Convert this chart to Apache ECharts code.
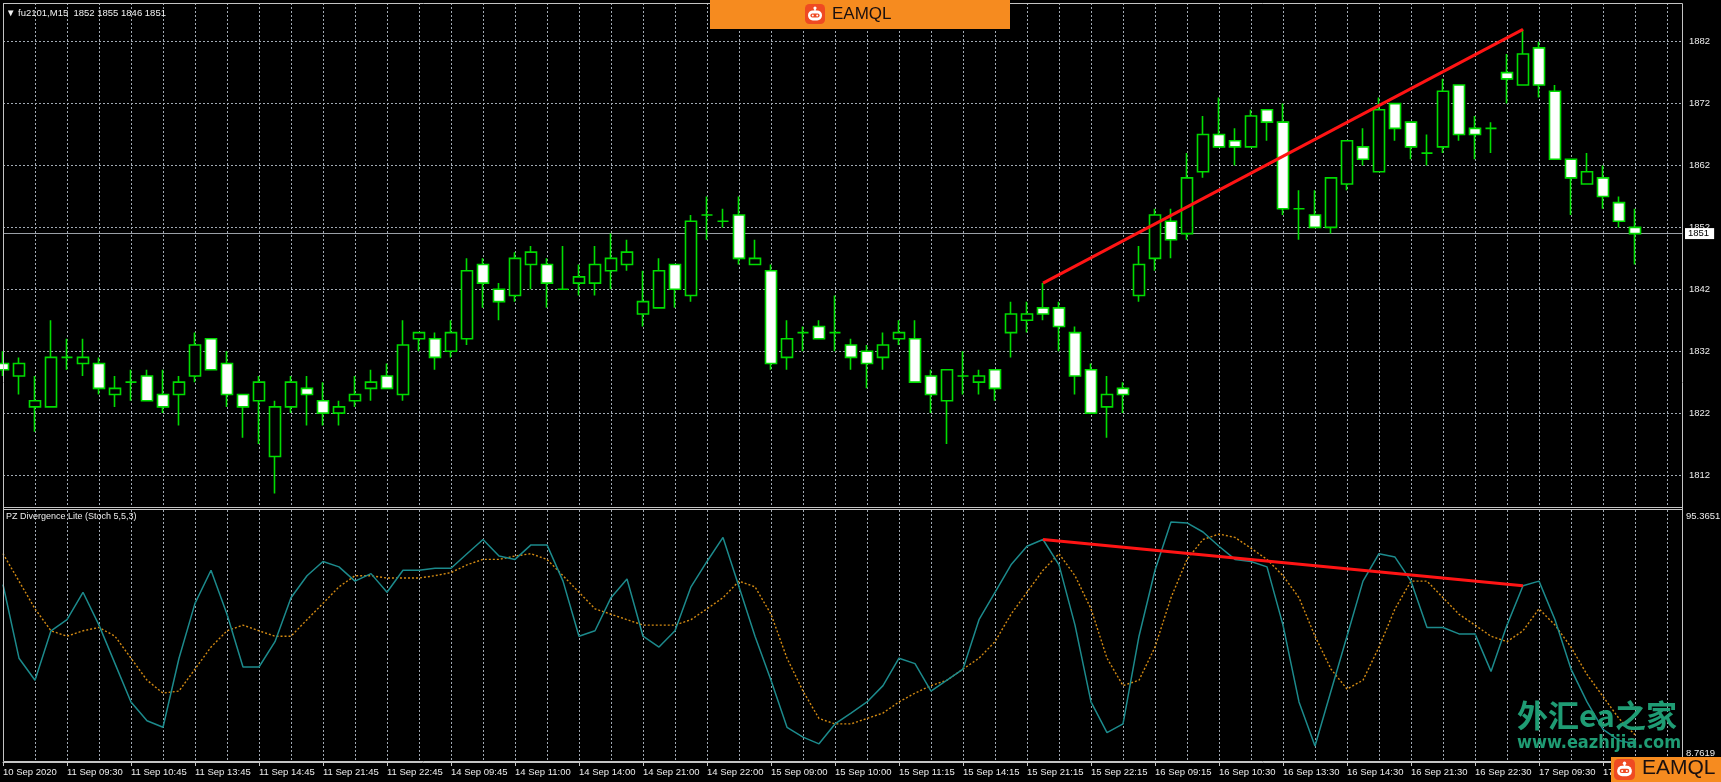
<!DOCTYPE html>
<html><head><meta charset="utf-8">
<script src="https://cdn.jsdelivr.net/npm/echarts@6/dist/echarts.min.js"></script>
<style>html,body{margin:0;padding:0;background:#000;overflow:hidden}#c{width:1721px;height:782px}</style>
</head><body><div id="c"></div>
<script>
// ---- categories (M15 bars) ----
const categories = [
'10 Sep 22:30','10 Sep 22:45','11 Sep 09:00','11 Sep 09:15','11 Sep 09:30','11 Sep 09:45','11 Sep 10:00','11 Sep 10:30','11 Sep 10:45','11 Sep 11:00',
'11 Sep 11:15','11 Sep 13:30','11 Sep 13:45','11 Sep 14:00','11 Sep 14:15','11 Sep 14:30','11 Sep 14:45','11 Sep 21:00','11 Sep 21:15','11 Sep 21:30',
'11 Sep 21:45','11 Sep 22:00','11 Sep 22:15','11 Sep 22:30','11 Sep 22:45','14 Sep 09:00','14 Sep 09:15','14 Sep 09:30','14 Sep 09:45','14 Sep 10:00',
'14 Sep 10:30','14 Sep 10:45','14 Sep 11:00','14 Sep 11:15','14 Sep 13:30','14 Sep 13:45','14 Sep 14:00','14 Sep 14:15','14 Sep 14:30','14 Sep 14:45',
'14 Sep 21:00','14 Sep 21:15','14 Sep 21:30','14 Sep 21:45','14 Sep 22:00','14 Sep 22:15','14 Sep 22:30','14 Sep 22:45','15 Sep 09:00','15 Sep 09:15',
'15 Sep 09:30','15 Sep 09:45','15 Sep 10:00','15 Sep 10:30','15 Sep 10:45','15 Sep 11:00','15 Sep 11:15','15 Sep 13:30','15 Sep 13:45','15 Sep 14:00',
'15 Sep 14:15','15 Sep 14:30','15 Sep 14:45','15 Sep 21:00','15 Sep 21:15','15 Sep 21:30','15 Sep 21:45','15 Sep 22:00','15 Sep 22:15','15 Sep 22:30',
'15 Sep 22:45','16 Sep 09:00','16 Sep 09:15','16 Sep 09:30','16 Sep 09:45','16 Sep 10:00','16 Sep 10:30','16 Sep 10:45','16 Sep 11:00','16 Sep 11:15',
'16 Sep 13:30','16 Sep 13:45','16 Sep 14:00','16 Sep 14:15','16 Sep 14:30','16 Sep 14:45','16 Sep 21:00','16 Sep 21:15','16 Sep 21:30','16 Sep 21:45',
'16 Sep 22:00','16 Sep 22:15','16 Sep 22:30','16 Sep 22:45','17 Sep 09:00','17 Sep 09:15','17 Sep 09:30','17 Sep 09:45','17 Sep 10:00','17 Sep 10:30',
'17 Sep 10:45','17 Sep 11:00','17 Sep 11:15','17 Sep 13:30','17 Sep 13:45','17 Sep 14:00'
];
// ---- time-axis tick labels (one every 4 bars) ----
const tickLabels = ['10 Sep 2020','11 Sep 09:30','11 Sep 10:45','11 Sep 13:45','11 Sep 14:45','11 Sep 21:45','11 Sep 22:45',
'14 Sep 09:45','14 Sep 11:00','14 Sep 14:00','14 Sep 21:00','14 Sep 22:00','15 Sep 09:00','15 Sep 10:00','15 Sep 11:15',
'15 Sep 14:15','15 Sep 21:15','15 Sep 22:15','16 Sep 09:15','16 Sep 10:30','16 Sep 13:30','16 Sep 14:30','16 Sep 21:30',
'16 Sep 22:30','17 Sep 09:30','17 Sep 10:45'];
// ---- price OHLC ----
const openP = [1830,1828,1823,1823,1831,1830,1830,1825,1827,1828,
1825,1825,1828,1834,1830,1825,1824,1815,1823,1826,
1824,1822,1824,1826,1828,1825,1834,1834,1832,1834,
1846,1842,1841,1846,1846,1842,1843,1843,1845,1846,
1838,1839,1846,1841,1854,1853,1854,1846,1845,1831,
1835,1836,1835,1833,1832,1831,1834,1834,1828,1824,
1828,1827,1829,1835,1837,1839,1839,1835,1829,1823,
1826,1841,1847,1853,1851,1861,1867,1866,1865,1871,
1869,1855,1854,1852,1859,1865,1861,1872,1869,1864,
1865,1875,1868,1868,1877,1875,1881,1874,1863,1859,
1860,1856,1852];
const highP = [1832,1831,1828,1837,1834,1834,1831,1828,1829,1829,
1829,1828,1835,1834,1832,1825,1828,1824,1828,1828,
1827,1824,1828,1829,1830,1837,1835,1835,1837,1847,
1847,1843,1848,1849,1847,1849,1846,1849,1851,1850,
1845,1847,1846,1854,1857,1855,1857,1850,1846,1837,
1836,1837,1841,1834,1833,1835,1837,1837,1829,1829,
1832,1829,1829,1840,1840,1843,1840,1836,1830,1828,
1827,1849,1855,1855,1864,1870,1873,1868,1871,1871,
1872,1858,1858,1860,1866,1868,1873,1872,1869,1867,
1876,1875,1870,1869,1880,1884,1882,1875,1863,1864,
1862,1857,1855];
const lowP = [1828,1825,1819,1823,1829,1828,1825,1823,1824,1824,
1822,1820,1827,1829,1823,1818,1817,1809,1822,1820,
1820,1820,1823,1824,1826,1824,1832,1829,1831,1833,
1839,1837,1840,1842,1839,1842,1841,1841,1842,1845,
1836,1839,1839,1840,1850,1852,1846,1846,1829,1829,
1832,1834,1832,1829,1826,1829,1833,1827,1822,1817,
1825,1825,1824,1831,1835,1837,1832,1825,1822,1818,
1822,1840,1845,1847,1850,1860,1865,1862,1865,1866,
1854,1850,1852,1851,1858,1862,1861,1866,1863,1862,
1864,1866,1863,1864,1872,1875,1873,1863,1854,1859,
1855,1852,1846];
const closeP = [1829,1830,1824,1831,1831,1831,1826,1826,1827,1824,
1823,1827,1833,1829,1825,1823,1827,1823,1827,1825,
1822,1823,1825,1827,1826,1833,1835,1831,1835,1845,
1843,1840,1847,1848,1843,1842,1844,1846,1847,1848,
1840,1845,1842,1853,1854,1853,1847,1847,1830,1834,
1835,1834,1835,1831,1830,1833,1835,1827,1825,1829,
1828,1828,1826,1838,1838,1838,1836,1828,1822,1825,
1825,1846,1854,1850,1860,1867,1865,1865,1870,1869,
1855,1855,1852,1860,1866,1863,1871,1868,1865,1864,
1874,1867,1867,1868,1876,1880,1875,1863,1860,1861,
1857,1853,1851];
// ---- Stochastic (5,5,3) ----
const stochMain = [71.2,42.7,34.2,53.3,57.6,68.2,55.5,40.6,25.8,18.5,
16.0,42.7,63.9,76.7,59.7,39.3,39.3,49.1,66.1,74.6,
80.1,78.0,72.5,75.4,68.2,76.7,76.7,77.5,77.5,83.1,
88.6,82.2,80.9,86.5,86.5,72.5,51.2,53.3,66.1,73.3,
51.2,47.0,53.3,70.3,80.1,89.4,70.3,51.2,34.2,16.0,
12.2,9.6,17.3,21.5,25.8,32.1,42.7,40.6,30.0,34.2,
38.5,57.6,68.2,78.8,86.0,88.6,78.8,55.5,25.8,13.9,
17.3,51.2,76.7,95.3651,95.0,91.5,86.0,80.9,80.1,78.0,
55.5,25.8,8.7619,30.0,51.2,72.5,83.1,81.8,72.5,54.6,
54.6,52.1,52.1,37.6,55.5,70.7,72.5,57.6,38.5,25.8,
15.2,10.9,9.5];
const stochSignal = [83.1,72.5,61.8,53.3,51.2,53.3,54.6,51.2,42.7,34.2,
29.2,30.0,38.5,47.0,53.3,55.5,53.3,51.2,51.2,57.6,
63.9,70.3,74.6,74.6,73.7,73.7,73.7,74.6,75.8,78.8,
80.9,80.9,82.2,83.1,80.9,74.6,68.2,61.8,59.7,57.6,
55.5,55.5,55.5,57.6,61.8,66.1,72.5,70.3,59.7,42.7,
30.0,19.4,17.3,17.3,19.4,21.5,25.8,29.2,32.1,34.2,
38.5,42.7,49.1,59.7,68.2,76.7,83.1,74.6,61.8,42.7,
32.1,34.2,47.0,66.1,80.9,88.6,90.7,89.4,85.2,80.9,
74.6,66.1,51.2,38.5,30.8,34.2,47.0,61.8,72.5,72.5,
66.1,59.7,55.5,51.2,49.1,53.3,61.8,55.5,47.0,36.4,
27.9,19.4,13.1];
const priceTicks = [1812,1822,1832,1842,1852,1862,1872,1882];
const lastPrice = 1851;
const stochMax = 95.3651, stochMin = 8.7619;
// divergence lines (bar index, value)
const priceTrend = [[65, 1843], [95, 1884]];
const stochTrend = [[65, 88.6], [95, 70.7]];

const FONT = '"Liberation Sans", Arial, sans-serif';
const GRIDC = '#a2aab4';
const GREEN = '#00dc00';
const LBL = '#ececec';
const candles = openP.map((o, i) => [o, closeP[i], lowP[i], highP[i]]);
const last = openP.length - 1;

const chart = echarts.init(document.getElementById('c'), null, {renderer: 'canvas'});

function robot(x, y, s) {
  const Z = 100;
  return {
    type: 'group', x: x, y: y, children: [
      {type: 'rect', z: Z, shape: {x: 0, y: 0, width: s, height: s, r: s * 0.22}, style: {fill: '#ef4a22'}},
      {type: 'circle', z: Z + 1, shape: {cx: s / 2, cy: s * 0.2, r: s * 0.08}, style: {fill: '#fff'}},
      {type: 'rect', z: Z + 1, shape: {x: s * 0.46, y: s * 0.2, width: s * 0.08, height: s * 0.14}, style: {fill: '#fff'}},
      {type: 'rect', z: Z + 1, shape: {x: s * 0.15, y: s * 0.32, width: s * 0.7, height: s * 0.5, r: s * 0.24}, style: {fill: '#fff'}},
      {type: 'rect', z: Z + 2, shape: {x: s * 0.27, y: s * 0.47, width: s * 0.46, height: s * 0.2, r: s * 0.1}, style: {fill: '#ef4a22'}},
      {type: 'circle', z: Z + 3, shape: {cx: s * 0.39, cy: s * 0.57, r: s * 0.05}, style: {fill: '#fff'}},
      {type: 'circle', z: Z + 3, shape: {cx: s * 0.61, cy: s * 0.57, r: s * 0.05}, style: {fill: '#fff'}}
    ]
  };
}

const option = {
  backgroundColor: '#000',
  animation: false,
  grid: [
    {left: 3, width: 1680, top: 3, height: 504},
    {left: 3, width: 1680, top: 510, height: 252}
  ],
  xAxis: [
    {type: 'category', gridIndex: 0, data: categories, boundaryGap: false,
     axisLine: {show: false}, axisTick: {show: false}, axisLabel: {show: false},
     splitLine: {show: true, interval: 1, lineStyle: {color: GRIDC, type: [2, 2], width: 1}}},
    {type: 'category', gridIndex: 1, data: categories, boundaryGap: false,
     axisLine: {show: true, lineStyle: {color: '#c4c4c4', width: 1}},
     axisTick: {show: true, interval: 3, length: 4, lineStyle: {color: '#c4c4c4'}},
     axisLabel: {show: true, interval: 3, align: 'left', margin: 5, color: LBL, fontSize: 9.5, fontFamily: FONT,
       formatter: (v, idx) => tickLabels[idx / 4] || ''},
     splitLine: {show: true, interval: 1, lineStyle: {color: GRIDC, type: [2, 2], width: 1}}}
  ],
  yAxis: [
    {type: 'value', gridIndex: 0, min: 1806.83, max: 1888.25, show: false, splitLine: {show: false}},
    {type: 'value', gridIndex: 1, min: 2.576, max: 100.0, show: false, splitLine: {show: false}}
  ],
  series: [
    {type: 'line', name: 'grid', xAxisIndex: 0, yAxisIndex: 0, data: [], z: 1, silent: true,
     markLine: {silent: true, symbol: 'none', z: 1, animation: false,
       data: priceTicks.map(p => ({yAxis: p, lineStyle: {color: GRIDC, type: [2, 2], width: 1},
         label: {show: true, position: 'end', distance: 6, formatter: String(p), color: LBL, fontSize: 9.5, fontFamily: FONT}}))
         .concat([{yAxis: lastPrice, lineStyle: {color: '#9a9fa6', type: 'solid', width: 1},
           label: {show: true, position: 'end', distance: 2, formatter: String(lastPrice), color: '#000', backgroundColor: '#fff',
             padding: [1, 5, 0, 3], fontSize: 9.5, fontFamily: FONT}}])
     }},
    {type: 'candlestick', name: 'fu2101,M15', xAxisIndex: 0, yAxisIndex: 0, data: candles, z: 3, clip: true,
     barWidth: 11,
     itemStyle: {color: '#000', color0: '#fff', borderColor: GREEN, borderColor0: GREEN, borderColorDoji: GREEN, borderWidth: 1.6},
     markLine: {silent: true, symbol: 'none', z: 6,
       data: [[{coord: [categories[priceTrend[0][0]], priceTrend[0][1]]}, {coord: [categories[priceTrend[1][0]], priceTrend[1][1]]}]],
       lineStyle: {color: '#ff1414', width: 3, type: 'solid'}, label: {show: false}}},
    {type: 'line', name: 'Signal', xAxisIndex: 1, yAxisIndex: 1, data: stochSignal, symbol: 'none', z: 3,
     lineStyle: {color: '#d38a12', width: 1.4, type: [2, 2]}},
    {type: 'line', name: 'Main', xAxisIndex: 1, yAxisIndex: 1, data: stochMain, symbol: 'none', z: 4,
     lineStyle: {color: '#1c8a8c', width: 1.5},
     markLine: {silent: true, symbol: 'none', z: 6,
       data: [[{coord: [categories[stochTrend[0][0]], stochTrend[0][1]]}, {coord: [categories[stochTrend[1][0]], stochTrend[1][1]]}]],
       lineStyle: {color: '#ff1414', width: 3, type: 'solid'}, label: {show: false}}}
  ],
  graphic: [
    // chart frame and pane separator
    {type: 'rect', shape: {x: 3.5, y: 3.5, width: 1679, height: 758}, style: {fill: 'none', stroke: '#c4c4c4', lineWidth: 1}, z: 50, silent: true},
    {type: 'line', shape: {x1: 3, y1: 507.5, x2: 1683, y2: 507.5}, style: {stroke: '#c4c4c4', lineWidth: 1}, z: 50},
    {type: 'line', shape: {x1: 3, y1: 509.5, x2: 1683, y2: 509.5}, style: {stroke: '#c4c4c4', lineWidth: 1}, z: 50},
    // titles
    {type: 'text', x: 6, y: 8, z: 60, style: {text: '\u25BC ' + 'fu2101,M15  ' + [openP[last], highP[last], lowP[last], closeP[last]].join(' '),
      fill: '#f0f0f0', font: '9.5px ' + FONT}},
    {type: 'text', x: 6, y: 512, z: 60, style: {text: 'PZ Divergence Lite (Stoch 5,5,3)', fill: LBL, font: '9px ' + FONT}},
    // indicator scale labels
    {type: 'text', x: 1686, y: 511, z: 60, style: {text: String(stochMax), fill: LBL, font: '9.5px ' + FONT}},
    {type: 'text', x: 1686, y: 748, z: 60, style: {text: String(stochMin), fill: LBL, font: '9.5px ' + FONT}},
    // watermark
    {type: 'text', x: 1517, y: 700, z: 70, style: {text: '外汇ea之家', fill: '#1f9c74', font: 'bold 31px "Noto Sans CJK SC", sans-serif'}},
    {type: 'text', x: 1517, y: 734, z: 70, style: {text: 'www.eazhijia.com', fill: '#1f9c74', font: 'bold 18px "DejaVu Sans Condensed", "Liberation Sans Narrow", sans-serif'}},
    // top banner logo
    {type: 'rect', shape: {x: 710, y: 0, width: 300, height: 29}, style: {fill: '#f68b1f'}, z: 90},
    robot(805, 4, 20),
    {type: 'text', x: 832, y: 6, z: 100, style: {text: 'EAMQL', fill: '#1a1010', font: '17px "Liberation Sans", sans-serif'}},
    // bottom-right logo
    {type: 'rect', shape: {x: 1611, y: 757, width: 110, height: 25}, style: {fill: '#f68b1f'}, z: 90},
    robot(1614, 759, 21),
    {type: 'text', x: 1642, y: 758, z: 100, style: {text: 'EAMQL', fill: '#1a1010', font: '21px "Liberation Sans", sans-serif'}}
  ]
};
chart.setOption(option);
</script>
</body></html>
